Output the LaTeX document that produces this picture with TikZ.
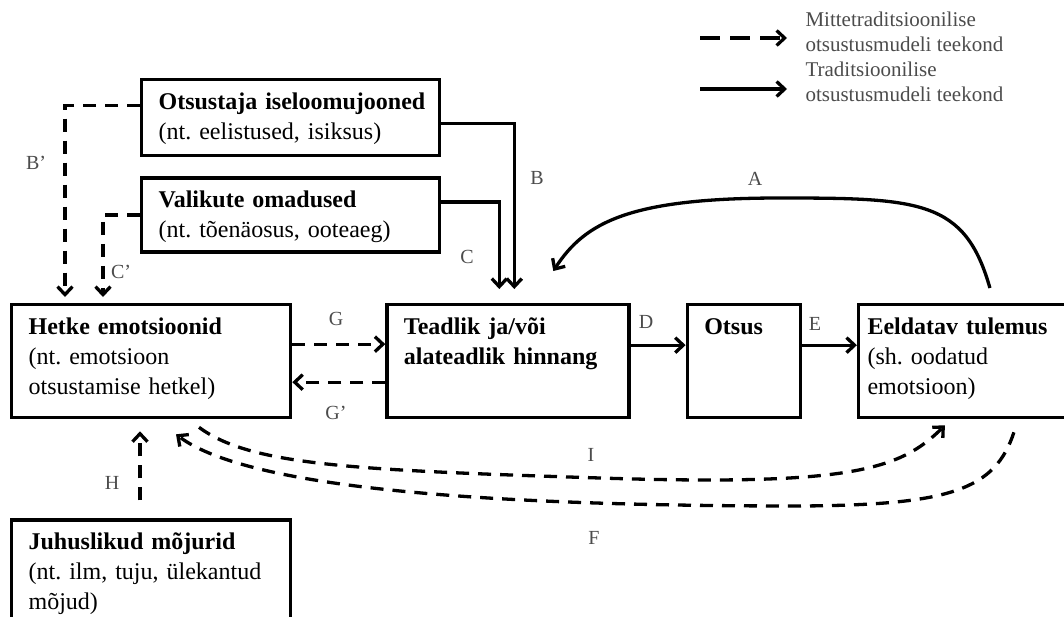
\documentclass[tikz,border=0pt]{standalone}
\usepackage{fontspec}
\setmainfont{Liberation Serif}
\usetikzlibrary{positioning,arrows.meta}
\frenchspacing

\begin{document}
\begin{tikzpicture}[
      x=1pt, y=-1pt,
      kast/.style={
        draw,
        line width=3.3pt,
        anchor=north west,
        align=left,
        inner xsep=17pt,
        inner ysep=13pt,
        text height=17pt,
        font=\fontsize{24}{30}\selectfont
      },
      trad/.style={
        line width=3.3pt,
        -{Straight Barb[length=8pt,width=15pt]}
      },
      mittetrad/.style={
        trad,
        dash pattern=on 13pt off 9pt
      },
      silt/.style={
        text=black!70,
        font=\fontsize{20}{24}\selectfont
      }
    ]
    \useasboundingbox[fill=white] (0,0) rectangle (1064,616);

    % kastid
    \node[kast, text width=264pt, text depth=33pt] (otsustaja) at (140,78)
      {\mbox{\textbf{Otsustaja iseloomujooned}}\\(nt. eelistused, isiksus)};
    \node[kast, text width=264pt, text depth=31pt, below=19pt of otsustaja.south west, anchor=north west] (valikute)
      {\textbf{Valikute omadused}\\(nt. tõenäosus, ooteaeg)};
    \node[kast, text width=245pt, text depth=70pt] (hetke) at (10,303)
      {\textbf{Hetke emotsioonid}\\(nt. emotsioon\\otsustamise hetkel)};
    \node[kast, text width=208pt, text depth=70pt, right=93pt of hetke.north east, anchor=north west] (teadlik)
      {\textbf{Teadlik ja/või}\\\textbf{alateadlik hinnang}};
    \node[kast, text width=79pt, text depth=70pt, right=55pt of teadlik.north east, anchor=north west] (otsus)
      {\textbf{Otsus}};
    \node[kast, inner xsep=9pt, text width=207pt, text depth=70pt, right=55pt of otsus.north east, anchor=north west] (eeldatav)
      {\textbf{Eeldatav tulemus}\\(sh. oodatud\\emotsioon)};
    \node[kast, text width=245pt, text depth=100pt, below=99pt of hetke.south west, anchor=north west] (juhuslikud)
      {\textbf{Juhuslikud mõjurid}\\(nt. ilm, tuju, ülekantud\\mõjud)};

    % traditsiooniline tee
    \draw[trad] ([yshift=-6pt]otsustaja.east) -| ([xshift=129pt,yshift=14pt]teadlik.north west);
    \draw[trad] ([yshift=13pt]valikute.east) -| ([xshift=114pt,yshift=14pt]teadlik.north west);
    \draw[trad] ([yshift=16pt]teadlik.east) -- ([yshift=16pt]otsus.west);
    \draw[trad] ([yshift=16pt]otsus.east) -- ([yshift=16pt]eeldatav.west);
    \draw[trad] ([xshift=133pt,yshift=15pt]eeldatav.north west)
      .. controls (965,200) and (920,198) .. (780,198)
      .. controls (630,198) and (585,222) .. ([xshift=168pt,yshift=32pt]teadlik.north west);

    % mittetraditsiooniline tee
    \draw[mittetrad] ([yshift=12pt]otsustaja.west) -| ([xshift=55pt,yshift=6pt]hetke.north west);
    \draw[mittetrad] (valikute.west) -| ([xshift=93pt,yshift=6pt]hetke.north west);
    \draw[mittetrad] ([yshift=17pt]hetke.east) -- ([yshift=17pt]teadlik.west);
    \draw[mittetrad] ([yshift=-21pt]teadlik.west) -- ([yshift=-21pt]hetke.east);
    \draw[mittetrad] ([xshift=130pt,yshift=18pt]juhuslikud.north west) -- ([xshift=130pt,yshift=-12pt]hetke.south west);
    \draw[mittetrad] ([xshift=189pt,yshift=-8pt]hetke.south west)
      .. controls (250,465) and (350,470) .. (600,478)
      .. controls (850,486) and (900,470) .. ([xshift=88pt,yshift=-6pt]eeldatav.south west);
    \draw[mittetrad] ([xshift=157pt,yshift=-13pt]eeldatav.south west)
      .. controls (995,490) and (950,505) .. (800,506)
      .. controls (500,506) and (250,490) .. ([xshift=166pt,yshift=-15pt]hetke.south west);

    % sildid
    \node[silt] (sA) at (755,179) {A};
    \node[silt] (sB) at (537,178) {B};
    \node[silt] (sC) at (467,257) {C};
    \node[silt] (sB2) at (36,163) {B'};
    \node[silt] (sC2) at (121,272) {C'};
    \node[silt] (sD) at (646,322) {D};
    \node[silt] (sE) at (815,324) {E};
    \node[silt] (sG) at (336,319) {G};
    \node[silt] (sG2) at (336,413) {G'};
    \node[silt] (sH) at (112,483) {H};
    \node[silt] (sI) at (591,455) {I};
    \node[silt] (sF) at (594,538) {F};

    % legend
    \coordinate (leg1a) at (700,38);
    \coordinate (leg1b) at (787,38);
    \coordinate (leg2a) at (700,89);
    \coordinate (leg2b) at (787,89);
    \draw[trad, dash pattern=on 20pt off 10pt] (leg1a) -- (leg1b);
    \draw[trad] (leg2a) -- (leg2b);
    \node[silt, anchor=west, align=left, font=\fontsize{21}{25}\selectfont] (leg1) at (802,32)
      {Mittetraditsioonilise\\otsustusmudeli teekond};
    \node[silt, anchor=west, align=left, font=\fontsize{21}{25}\selectfont] (leg2) at (802,82)
      {Traditsioonilise\\otsustusmudeli teekond};

  \end{tikzpicture}
\end{document}
